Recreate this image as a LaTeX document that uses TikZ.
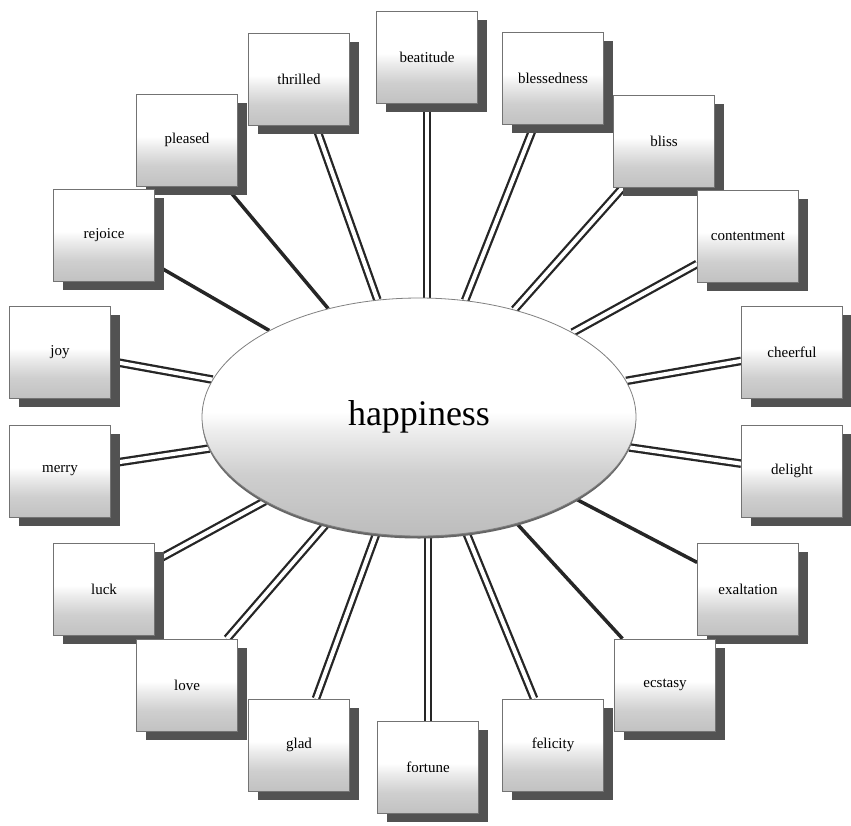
\documentclass[tikz,border=0pt]{standalone}
\usepackage{fontspec}
\setmainfont{Liberation Serif}
\usetikzlibrary{shapes.geometric,shadows}
\pgfdeclarelayer{background}
\pgfsetlayers{background,main}
\pgfdeclareverticalshading{boxfade}{100bp}{color(0bp)=(black!24); color(25bp)=(black!24); color(36bp)=(black!19); color(46bp)=(black!8); color(52bp)=(white); color(100bp)=(white)}
\pgfdeclareverticalshading{ellfade}{100bp}{color(0bp)=(black!26); color(25bp)=(black!26); color(38bp)=(black!19); color(47bp)=(black!7); color(51bp)=(white); color(100bp)=(white)}
\begin{document}
\begin{tikzpicture}[x=1pt,y=-1pt,
  wbox/.style={rectangle, draw=black!55, line width=0.7pt, shade, shading=boxfade,
    minimum width=101pt, minimum height=92pt, inner sep=0pt,
    font=\fontsize{15}{18}\selectfont,
    general shadow={fill=black!68, shadow xshift=9pt, shadow yshift=-9pt}},
  hub/.style={ellipse, draw=black!50, line width=0.8pt, shade, shading=ellfade,
    minimum width=434pt, minimum height=238pt, inner sep=0pt,
    font=\fontsize{36}{40}\selectfont,
    general shadow={fill=black!60, shadow yshift=-2.5pt}},
  dbl/.style={draw=black!85, line width=2.3pt, double=white, double distance=4pt},
  sgl/.style={draw=black!85, line width=3.5pt}]
\useasboundingbox (0,0) rectangle (851,825);
% boxes drawn first (overlapped by later ones)
\node[wbox] (pleased) at (187,140) {pleased};
\node[wbox] (bliss) at (664,141) {bliss};
\node[wbox] (luck) at (104,589) {luck};
\node[wbox] (exaltation) at (748,589) {exaltation};
\node[wbox] (beatitude) at (427,57) {beatitude};
\node[wbox] (thrilled) at (299,79) {thrilled};
\node[wbox] (blessedness) at (553,78) {blessedness};
\node[wbox] (rejoice) at (104,235) {rejoice};
\node[wbox] (contentment) at (748,236) {contentment};
\node[wbox] (joy) at (60,352) {joy};
\node[wbox] (cheerful) at (792,352) {cheerful};
\node[wbox] (merry) at (60,471) {merry};
\node[wbox] (delight) at (792,471) {delight};
\node[wbox] (love) at (187,685) {love};
\node[wbox] (ecstasy) at (665,685) {ecstasy};
\node[wbox] (glad) at (299,745) {glad};
\node[wbox] (fortune) at (428,767) {fortune};
\node[wbox] (felicity) at (553,745) {felicity};
% central ellipse
\node[hub] (hub) at (419,417) {happiness};
% connectors
\begin{pgfonlayer}{background}
\foreach \n in {thrilled,blessedness,bliss,contentment,joy,cheerful,merry,delight,luck,love,glad,felicity}
  \draw[dbl] (\n) -- (hub);
\draw[dbl] (beatitude) -- (beatitude |- hub.center);
\draw[dbl] (fortune) -- (fortune |- hub.center);
\foreach \n in {pleased,rejoice,exaltation,ecstasy}
  \draw[sgl] (\n) -- (hub);
\end{pgfonlayer}
\end{tikzpicture}
\end{document}
